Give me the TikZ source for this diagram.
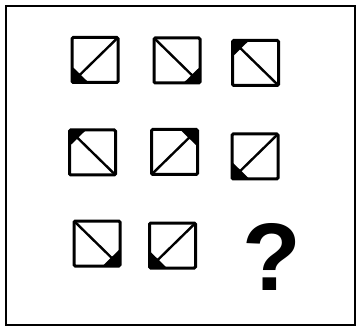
\documentclass[tikz,border=0pt]{standalone}
\usepackage{fontspec}
\setmainfont{Liberation Sans}
\usetikzlibrary{calc}
\begin{document}
\begin{tikzpicture}[x=1pt,y=-1pt,
  frame/.style={draw, line width=2.2pt, inner sep=0, outer sep=0, minimum width=349pt, minimum height=319pt},
  tile/.style={draw, line width=3pt, inner sep=0, outer sep=0, minimum width=46pt, minimum height=45pt, rounded corners=1.2pt},
  diagline/.style={line width=2.4pt},
  blackcorner/.style={fill=black}]
\useasboundingbox (0,0) rectangle (361,331);
\node[frame] (border) at (180.5,165.5) {};
\foreach \n/\x/\y/\c/\o/\u/\v/\f in {
  s1/95/60/south west/north east/north west/south east/0.36,
  s2/177/60.5/south east/north west/north east/south west/0.36,
  s3/255.5/63/north west/south east/south west/north east/0.36,
  s4/92.5/152.5/north west/south east/south west/north east/0.36,
  s5/174.5/152/north east/south west/south east/north west/0.38,
  s6/255/156.5/south west/north east/north west/south east/0.38,
  s7/97/243.5/south east/north west/north east/south west/0.38,
  s8/172.5/245.5/south west/north east/north west/south east/0.38}{
  \node[tile] (\n) at (\x,\y) {};
  \draw[diagline] (\n.\c) -- (\n.\o);
  \fill[blackcorner] (\n.\c) -- ($(\n.\c)!\f!(\n.\u)$) -- ($(\n.\c)!\f!(\n.\v)$) -- cycle;
}
\node[inner sep=0, font=\fontsize{96}{96}\selectfont\bfseries] (q) at (271.5,257) {?};
\end{tikzpicture}
\end{document}
